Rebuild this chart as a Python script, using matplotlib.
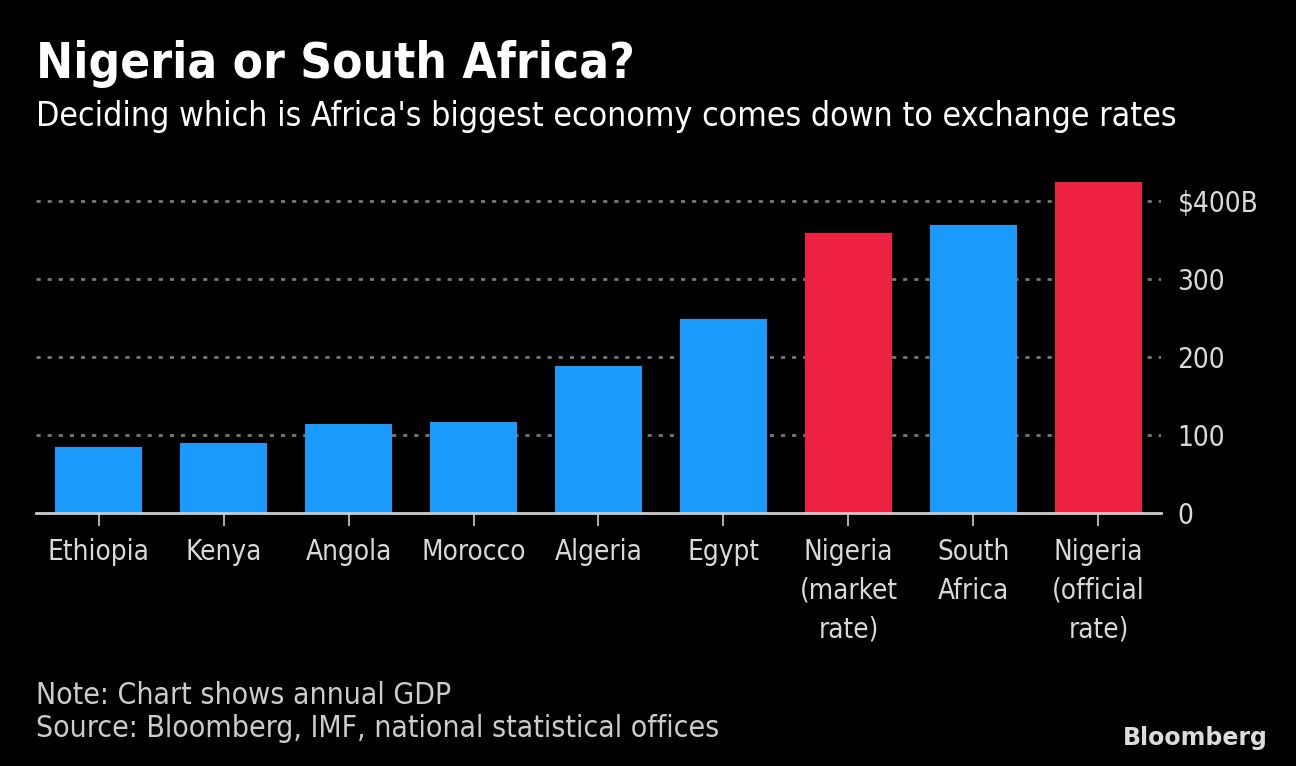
import matplotlib
matplotlib.use("Agg")
import matplotlib.pyplot as plt

# GDP, billions of US dollars
countries = ["Ethiopia", "Kenya", "Angola", "Morocco", "Algeria", "Egypt",
             "Nigeria\n(market\nrate)", "South\nAfrica", "Nigeria\n(official\nrate)"]
gdp = [85, 90, 114, 117, 188, 249, 359, 369, 424]
highlight = [False, False, False, False, False, False, True, False, True]
yticks = [0, 100, 200, 300, 400]
ytick_labels = ["0", "100", "200", "300", "$400B"]

BLUE = "#1a9bfc"
RED = "#ee2140"
GREY = "#d9d9d9"

plt.rcParams["font.family"] = ["DejaVu Sans"]
plt.rcParams["font.stretch"] = "condensed"

fig = plt.figure(figsize=(12.96, 7.66), dpi=100, facecolor="black")
ax = fig.add_axes([0.0278, 0.3303, 0.868, 0.443], facecolor="black")

colors = [RED if h else BLUE for h in highlight]
x = list(range(len(countries)))
ax.bar(x, gdp, width=0.69, color=colors, zorder=3)

ax.set_xlim(-0.5, len(countries) - 0.5)
ax.set_ylim(0, 435)

ax.yaxis.tick_right()
ax.set_yticks(yticks)
ax.set_yticklabels(ytick_labels)
ax.tick_params(axis="y", length=0, pad=12, labelsize=20, labelcolor=GREY)
ax.set_xticks(x)
ax.set_xticklabels(countries, linespacing=1.5)
ax.tick_params(axis="x", length=9, width=1.5, color="#aaaaaa", pad=9,
               labelsize=20, labelcolor=GREY)

for v in yticks[1:]:
    ax.axhline(v, color="#777777", linestyle=(0, (1.5, 2.5)), linewidth=2, zorder=1)

for s in ["top", "right", "left"]:
    ax.spines[s].set_visible(False)
ax.spines["bottom"].set_color("#cccccc")
ax.spines["bottom"].set_linewidth(2)
ax.spines["bottom"].set_zorder(4)

fig.text(0.0278, 0.898, "Nigeria or South Africa?", color="white",
         fontsize=35.5, fontweight="bold", va="baseline")
fig.text(0.0278, 0.835, "Deciding which is Africa's biggest economy comes down to exchange rates",
         color="white", fontsize=24.3, va="baseline")

fig.text(0.0278, 0.038, "Note: Chart shows annual GDP\nSource: Bloomberg, IMF, national statistical offices",
         color="#cccccc", fontsize=21.6, va="baseline", linespacing=1.15)
fig.text(0.978, 0.028, "Bloomberg", color="#dcdcdc", fontsize=17,
         fontweight="bold", fontstretch="normal", ha="right", va="baseline")

fig.savefig("out.png", dpi=100, facecolor="black")
